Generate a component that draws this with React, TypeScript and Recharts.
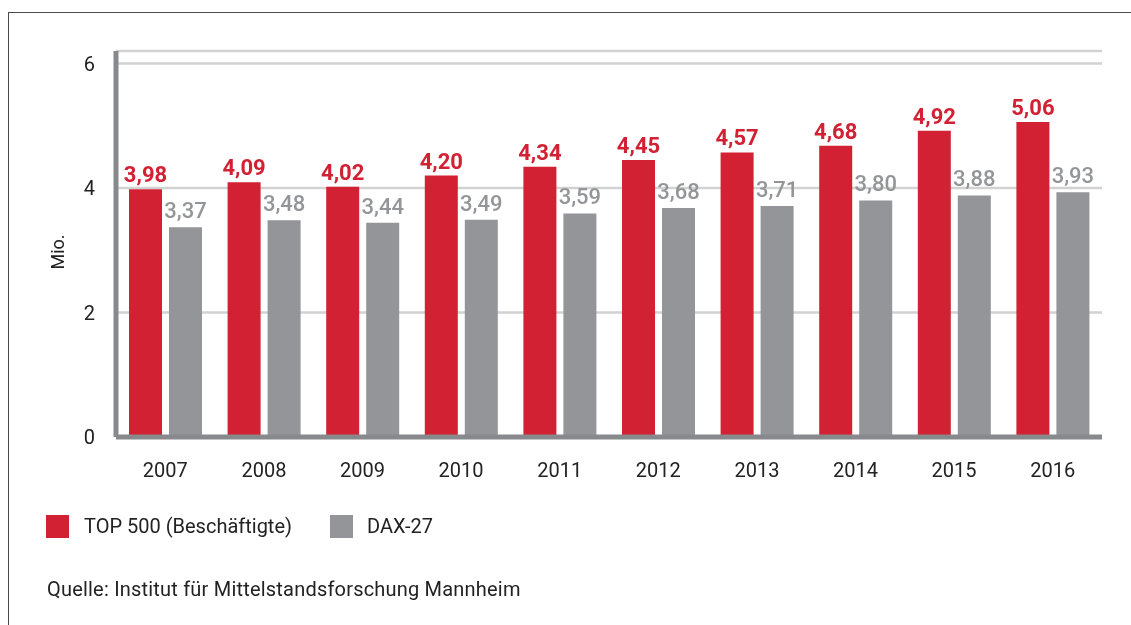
import { Bar, BarChart, CartesianGrid, LabelList, XAxis, YAxis } from "recharts";

const years = ["2007", "2008", "2009", "2010", "2011", "2012", "2013", "2014", "2015", "2016"];
const top500 = [3.98, 4.09, 4.02, 4.2, 4.34, 4.45, 4.57, 4.68, 4.92, 5.06];
const dax27 = [3.37, 3.48, 3.44, 3.49, 3.59, 3.68, 3.71, 3.8, 3.88, 3.93];
const yTicks = [0, 2, 4, 6];

const RED = "#d12133";
const GRAY = "#939598";
const AXIS = "#88898c";
const FONT = "Roboto, 'Noto Sans', sans-serif";

const data = years.map((year, i) => ({ year, top500: top500[i], dax27: dax27[i] }));

// deutsche Schreibweise mit Komma
const fmt = (v: unknown) => Number(v).toFixed(2).replace(".", ",");

export default function App() {
  return (
    <div style={{ position: "relative", width: 1123, height: 609, fontFamily: FONT, color: "#222" }}>
      {/* Rahmen, läuft rechts und unten aus dem Bild */}
      <div
        style={{
          position: "fixed",
          left: 8,
          top: 12,
          width: 1140,
          height: 640,
          border: "1.5px solid #4a4a4a",
          boxSizing: "border-box",
        }}
      />
      <div style={{ position: "absolute", left: 0, top: 1 }}>
        <BarChart
          width={1123}
          height={480}
          data={data}
          margin={{ top: 42, right: 29, left: 0, bottom: 12 }}
          barSize={33}
          barGap={7}
        >
          <CartesianGrid vertical={false} stroke="#d2d2d2" strokeWidth={2.5} />
          <XAxis
            dataKey="year"
            height={40}
            tickSize={0}
            tickMargin={26}
            axisLine={{ stroke: AXIS, strokeWidth: 5 }}
            tick={{ fill: "#222", fontSize: 20, fontFamily: FONT }}
          />
          <YAxis
            width={108}
            domain={[0, 6.2]}
            ticks={yTicks}
            tickSize={0}
            tickMargin={21}
            axisLine={{ stroke: AXIS, strokeWidth: 5 }}
            tick={{ fill: "#222", fontSize: 20, fontFamily: FONT }}
            label={{
              value: "Mio.",
              angle: -90,
              position: "center",
              dx: -4,
              dy: 8,
              style: { fill: "#222", fontSize: 18, fontFamily: FONT },
            }}
          />
          <Bar dataKey="top500" fill={RED} isAnimationActive={false}>
            <LabelList
              dataKey="top500"
              position="top"
              offset={7}
              formatter={fmt}
              style={{ fill: RED, fontSize: 22, fontWeight: 700, fontFamily: FONT }}
            />
          </Bar>
          <Bar dataKey="dax27" fill={GRAY} isAnimationActive={false}>
            <LabelList
              dataKey="dax27"
              position="top"
              offset={9}
              formatter={fmt}
              style={{ fill: GRAY, fontSize: 22, fontWeight: 500, fontFamily: FONT }}
            />
          </Bar>
        </BarChart>
      </div>

      {/* Legende */}
      <div style={{ position: "absolute", left: 38, top: 507, width: 23, height: 23, background: RED }} />
      <div style={{ position: "absolute", left: 76, top: 506, fontSize: 20, lineHeight: "25px" }}>
        TOP 500 (Beschäftigte)
      </div>
      <div style={{ position: "absolute", left: 322, top: 507, width: 23, height: 23, background: GRAY }} />
      <div style={{ position: "absolute", left: 359, top: 506, fontSize: 20, lineHeight: "25px" }}>DAX-27</div>

      <div style={{ position: "absolute", left: 39, top: 569, fontSize: 20, lineHeight: "24px", letterSpacing: 0.2 }}>
        Quelle: Institut für Mittelstandsforschung Mannheim
      </div>
    </div>
  );
}
